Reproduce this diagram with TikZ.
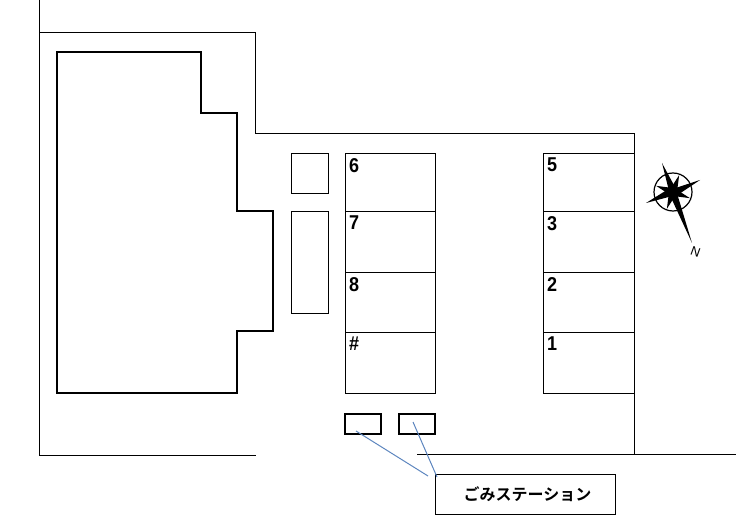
\documentclass[tikz,border=0pt]{standalone}
\usepackage{fontspec}
\usetikzlibrary{calc}
\setmainfont{Liberation Sans}
\newfontfamily\cjk{Noto Sans CJK JP}[BoldFont={* Bold}]
\tikzset{
	wall/.style={draw=black,line width=0.8pt},
	building/.style={draw=black,line width=1.7pt},
	slotbox/.style={draw=black,line width=0.8pt},
	slotnum/.style={anchor=north west,inner sep=0pt,xscale=0.9,font=\bfseries\fontsize{20}{20}\selectfont},
	binbox/.style={draw=black,line width=1.7pt,minimum width=36pt,minimum height=20pt,inner sep=0pt},
	labelbox/.style={draw=black,line width=0.8pt,minimum width=180pt,minimum height=40pt,inner sep=0pt,font=\cjk\bfseries\fontsize{16}{16}\selectfont},
	leader/.style={draw={rgb,255:red,91;green,132;blue,190},line width=1pt}
}
\begin{document}
\begin{tikzpicture}[x=1pt,y=-1pt]
	\useasboundingbox (0,0) rectangle (736,529);
	% site
	\draw[wall] (39,0) -- (39,455) -- (256,455);
	\draw[wall] (39,32) -- (255,32) -- (255,133) -- (634,133) -- (634,454);
	\draw[wall] (417,454) -- (736,454);
	% building
	\draw[building] (57,52) -- (201,52) -- (201,113) -- (237,113) -- (237,211) -- (273,211) -- (273,331) -- (237,331) -- (237,393) -- (57,393) -- cycle;
	\draw[slotbox] (291,153) rectangle (328,193);
	\draw[slotbox] (291,211) rectangle (328,313);
	% parking
	\foreach \top/\bot/\numl/\numr in {153/211/6/5,211/272/7/3,272/332/8/2,332/393/\#/1}{
		\draw[slotbox] (345,\top) rectangle (435,\bot);
		\draw[slotbox] (543,\top) rectangle (634,\bot);
		\node[slotnum] at (349,\top+5) {\numl};
		\node[slotnum] at (547,\top+5) {\numr};
	}
	% garbage
	\node[binbox] (binA) at (363,424) {};
	\node[binbox] (binB) at (417,424) {};
	\node[labelbox] (station) at (525,494) {\hspace*{5pt}ごみステーション};
	\coordinate (binAend) at (356,431);
	\coordinate (binBend) at (413,422);
	\coordinate (stationA) at (428,476);
	\coordinate (stationB) at (437,477);
	\draw[leader] (binAend) -- (stationA);
	\draw[leader] (binBend) -- (stationB);
	% compass
	\coordinate (c) at (673,192);
	\draw[line width=1.2pt] (c) circle (19);
	\fill (662,163) -- (675.5,188) -- (700,180) -- (677.5,195) -- (692,243) -- (670.5,196.5) -- (646,203) -- (668.5,189) -- cycle;
	\foreach \a in {20,110,200,290}{
		\fill ($(c)+(\a:18)$) -- ($(c)+(\a+70:4)$) -- ($(c)+(\a-70:4)$) -- cycle;
	}
	\node[rotate=-20,inner sep=0pt,font=\fontsize{13}{13}\selectfont] (north) at (695.5,252) {N};
\end{tikzpicture}
\end{document}
